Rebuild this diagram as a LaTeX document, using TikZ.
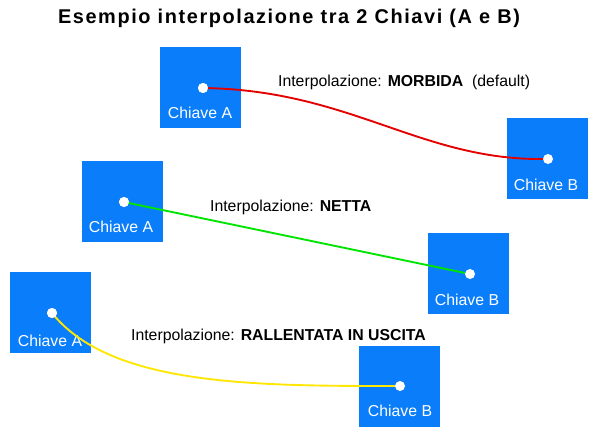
\documentclass[tikz,border=0pt]{standalone}
\usepackage{fontspec}
\setmainfont{Liberation Sans}
\begin{document}
\begin{tikzpicture}[x=0.03cm,y=-0.03cm,
  key/.style={fill=keyblue,draw=none,minimum size=81*0.03cm,inner sep=0,anchor=north west},
  keylab/.style={text=white,font=\fontsize{13.5}{15}\selectfont},
  pt/.style={circle,fill=white,inner sep=0,minimum size=0.3cm},
  lab/.style={font=\fontsize{13.5}{15}\selectfont,anchor=west}]
\definecolor{keyblue}{HTML}{0A7DFB}
\useasboundingbox (0,0) rectangle (600,435);
\node[font=\bfseries\fontsize{17}{19}\selectfont] (t) at (289,18) {\addfontfeature{LetterSpace=8}Esempio interpolazione tra 2 Chiavi (A e B)};
% squares
\node[key] (s1) at (160,47) {}; \node[keylab] (l1) at (200,113) {Chiave A};
\node[key] (s2) at (507,118) {}; \node[keylab] (l2) at (546,185) {Chiave B};
\node[key] (s3) at (82,161) {}; \node[keylab] (l3) at (121,227) {Chiave A};
\node[key] (s4) at (428,233) {}; \node[keylab] (l4) at (467,300) {Chiave B};
\node[key] (s5) at (10,272) {}; \node[keylab] (l5) at (50,341) {Chiave A};
\node[key] (s6) at (359,346) {}; \node[keylab] (l6) at (400,411) {Chiave B};
% points
\node[pt] (a1) at (203,88) {}; \node[pt] (b1) at (548,159) {};
\node[pt] (a2) at (124,202) {}; \node[pt] (b2) at (470,274) {};
\node[pt] (a3) at (52,313) {}; \node[pt] (b3) at (400,386) {};
\draw[red!90!black,line width=1.6pt] (a1.center) .. controls (350,90) and (420,160) .. (b1);
\draw[green!90!black,line width=1.6pt] (a2.center) -- (b2);
\draw[yellow!90!orange,line width=1.6pt] (a3.center) .. controls (110,385) and (250,386) .. (b3);
\node[pt] at (a1) {}; \node[pt] at (a2) {}; \node[pt] at (a3) {};
\node[lab] (i1) at (274,82) {Interpolazione: \textbf{MORBIDA} \ (default)};
\node[lab] (i2) at (206,207) {Interpolazione: \textbf{NETTA}};
\node[lab] (i3) at (127,336) {Interpolazione: \textbf{RALLENTATA IN USCITA}};
\end{tikzpicture}
\end{document}
